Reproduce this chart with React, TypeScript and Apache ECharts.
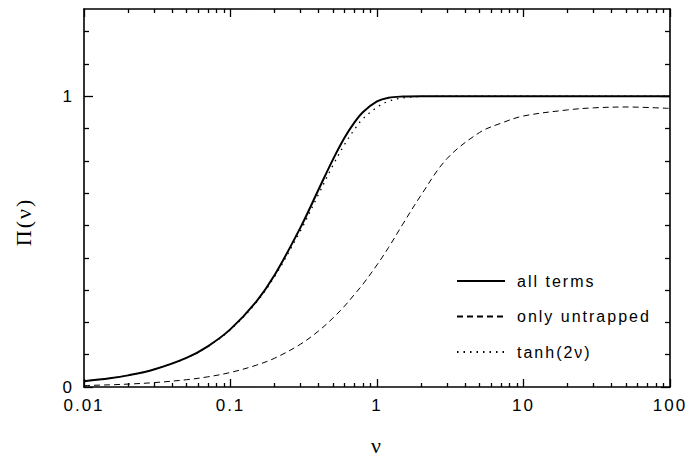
import React, { useEffect, useRef } from "react";
import * as echarts from "echarts";

// nu values (log-spaced sample points)
const nu = [0.01, 0.015, 0.02, 0.03, 0.05, 0.07, 0.1, 0.15, 0.2, 0.3, 0.4, 0.5, 0.6, 0.7, 0.8, 1, 1.2, 1.5, 2, 3, 5, 7, 10, 20, 30, 50, 100];
const allTerms = [0.02, 0.03, 0.04, 0.06, 0.1, 0.14, 0.199, 0.294, 0.385, 0.548, 0.68, 0.782, 0.857, 0.909, 0.945, 0.982, 0.995, 0.999, 1.0, 1.0, 1.0, 1.0, 1.0, 1.0, 1.0, 1.0, 1.0];
const onlyUntrapped = [0.005, 0.0075, 0.01, 0.015, 0.025, 0.035, 0.05, 0.075, 0.099, 0.147, 0.193, 0.237, 0.278, 0.318, 0.353, 0.42, 0.48, 0.56, 0.66, 0.785, 0.875, 0.907, 0.932, 0.953, 0.96, 0.963, 0.958];
const tanh2nu = [0.02, 0.03, 0.04, 0.06, 0.0997, 0.139, 0.197, 0.291, 0.38, 0.537, 0.664, 0.762, 0.834, 0.885, 0.922, 0.962, 0.983, 0.994, 0.999, 1.0, 1.0, 1.0, 1.0, 1.0, 1.0, 1.0, 1.0];

const seriesNames = ["all terms", "only untrapped", "tanh(2\u03bd)"];

// tick definitions
const xTickLabels = ["0.01", "0.1", "1", "10", "100"];
const xMajorTicks = [0.01, 0.1, 1, 10, 100];
const xMinorTicks = [
  0.02, 0.03, 0.04, 0.05, 0.06, 0.07, 0.08, 0.09,
  0.2, 0.3, 0.4, 0.5, 0.6, 0.7, 0.8, 0.9,
  2, 3, 4, 5, 6, 7, 8, 9,
  20, 30, 40, 50, 60, 70, 80, 90,
];
const yTickLabels = ["0", "1"];
const yMajorTicks = [0, 1];
const yMinorTicks = [1 / 9, 2 / 9, 3 / 9, 4 / 9, 5 / 9, 6 / 9, 7 / 9, 8 / 9, 10 / 9, 11 / 9];

const lg = (v: number) => Math.log10(v);

export default function App() {
  const ref = useRef<HTMLDivElement>(null);
  useEffect(() => {
    if (!ref.current) return;
    const chart = echarts.init(ref.current, null, { renderer: "svg" });
    const black = "#000";
    const labelFont = { fontFamily: "Liberation Sans", fontSize: 17, color: black };

    const xAx = (position: string, major: boolean, labels: boolean) => ({
      type: "value",
      min: -2,
      max: 2,
      position,
      axisLine: { show: major, onZero: false, lineStyle: { color: black, width: 1.6 } },
      axisTick: {
        show: true,
        inside: true,
        length: major ? 8 : 4,
        lineStyle: { color: black, width: 1.3 },
        customValues: (major ? xMajorTicks : xMinorTicks).map(lg),
      },
      axisLabel: {
        show: labels,
        margin: 10,
        ...labelFont,
        customValues: xMajorTicks.map(lg),
        formatter: (v: number) => {
          const i = xMajorTicks.findIndex((t) => Math.abs(lg(t) - v) < 1e-6);
          return i >= 0 ? xTickLabels[i] : "";
        },
      },
      splitLine: { show: false },
    });
    const yAx = (position: string, major: boolean, labels: boolean) => ({
      type: "value",
      min: 0,
      max: 1.3,
      position,
      axisLine: { show: major, onZero: false, lineStyle: { color: black, width: 1.6 } },
      axisTick: {
        show: true,
        inside: true,
        length: major ? 9 : 5,
        lineStyle: { color: black, width: 1.3 },
        customValues: major ? yMajorTicks : yMinorTicks,
      },
      axisLabel: {
        show: labels,
        margin: 10,
        ...labelFont,
        customValues: yMajorTicks,
        formatter: (v: number) => {
          const i = yMajorTicks.findIndex((t) => Math.abs(t - v) < 1e-6);
          return i >= 0 ? yTickLabels[i] : "";
        },
      },
      splitLine: { show: false },
    });

    const mk = (vals: number[]) => nu.map((v, i) => [lg(v), vals[i]]);

    const lineSeries = (name: string, vals: number[], lineStyle: any) => ({
      name,
      type: "line",
      data: mk(vals),
      symbol: "none",
      smooth: 0.35,
      lineStyle: { color: black, ...lineStyle },
      itemStyle: { color: black },
    });

    chart.setOption({
      animation: false,
      backgroundColor: "#fff",
      grid: { left: 84, right: 20, top: 9, bottom: 75, containLabel: false },
      xAxis: [
        xAx("bottom", true, true),
        xAx("bottom", false, false),
        xAx("top", true, false),
        xAx("top", false, false),
      ],
      yAxis: [
        yAx("left", true, true),
        yAx("left", false, false),
        yAx("right", true, false),
        yAx("right", false, false),
      ],
      legend: {
        orient: "vertical",
        left: 456,
        top: 273,
        padding: 0,
        itemWidth: 48,
        itemHeight: 14,
        itemGap: 19.5,
        itemStyle: { color: "rgba(0,0,0,0)", borderColor: "rgba(0,0,0,0)", borderWidth: 0 },
        textStyle: { fontFamily: "Liberation Sans", fontSize: 16, color: black, padding: [0, 0, 0, 7] },
        data: seriesNames,
      },
      series: [
        lineSeries(seriesNames[0], allTerms, { width: 2, type: "solid" }),
        lineSeries(seriesNames[1], onlyUntrapped, { width: 1, type: [6, 4] }),
        lineSeries(seriesNames[2], tanh2nu, { width: 1.3, type: [1.5, 5] }),
      ],
      graphic: [
        {
          type: "text",
          x: 377,
          y: 445,
          style: {
            text: "\u03bd",
            fontFamily: "Liberation Serif",
            fontSize: 22,
            fill: black,
            textAlign: "center",
            textVerticalAlign: "middle",
          },
        },
        {
          type: "text",
          x: 23,
          y: 222,
          rotation: Math.PI / 2,
          style: {
            text: "\u03a0(\u03bd)",
            fontFamily: "Liberation Serif",
            fontSize: 22,
            fill: black,
            textAlign: "center",
            textVerticalAlign: "middle",
          },
        },
      ],
    });
    return () => chart.dispose();
  }, []);
  return (
    <div
      ref={ref}
      style={{ position: "absolute", left: 0, top: 0, width: 690, height: 462, letterSpacing: "2px", background: "#fff" }}
    />
  );
}
